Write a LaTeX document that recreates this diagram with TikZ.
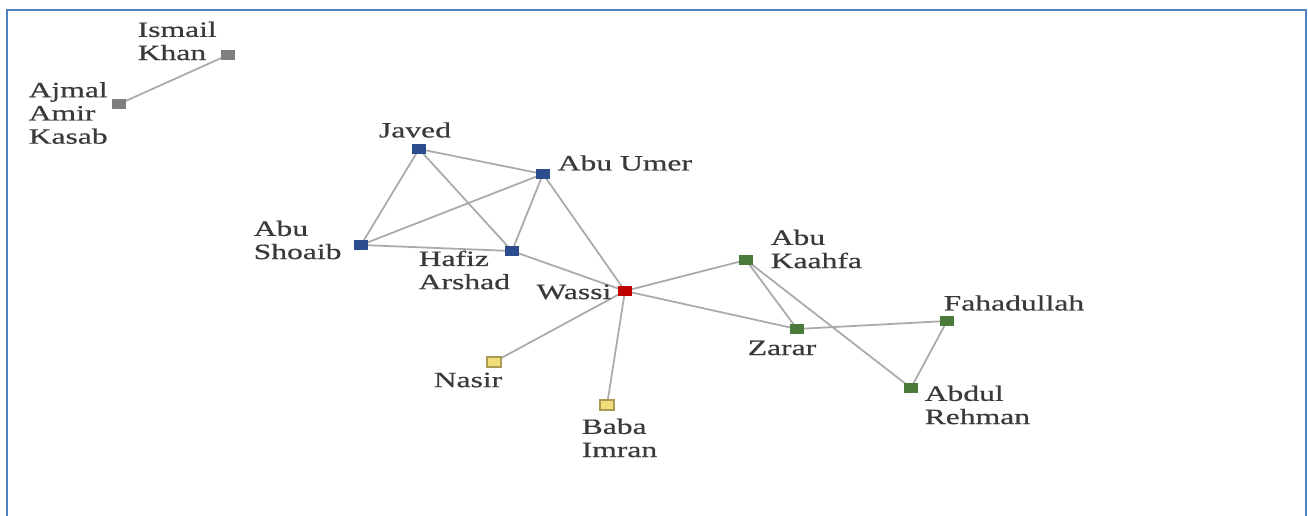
\documentclass[tikz,border=0pt]{standalone}
\usepackage{fontspec}
\usepackage{xcolor}
\usetikzlibrary{positioning,backgrounds}
\newfontfamily\netfont[FakeStretch=1.45,FakeBold=0.6]{Liberation Serif}
\definecolor{frameblue}{HTML}{4F81BD}
\definecolor{edgegrey}{HTML}{AAAAAA}
\definecolor{txtgrey}{HTML}{3A3A3A}
\definecolor{cellgrey}{HTML}{7F7F7F}
\definecolor{cellblue}{HTML}{2D4E8C}
\definecolor{cellred}{HTML}{C00000}
\definecolor{cellgreen}{HTML}{4B7B3A}
\definecolor{cellyellow}{HTML}{F2DC7A}

\begin{document}
\begin{tikzpicture}[x=0.01cm, y=-0.01cm,
                link/.style={draw=edgegrey, line width=0.5pt}]
        \tikzset{
                actor/.style  = {rectangle, inner sep=0pt, minimum width=1.4mm, minimum height=1mm},
                lone/.style   = {actor, fill=cellgrey},
                cell/.style   = {actor, fill=cellblue},
                hub/.style    = {actor, fill=cellred},
                team/.style   = {actor, fill=cellgreen},
                aide/.style   = {actor, fill=cellyellow, draw=cellyellow!70!black, line width=0.3pt},
                who/.style    = {inner sep=0pt, align=left, text=txtgrey,
                                font=\netfont\fontsize{6.2}{6.6}\selectfont}
        }
        \useasboundingbox (0,0) rectangle (1308,516);
        % frame round the picture, open at the bottom
        \draw[frameblue, line width=0.8pt] (7,516) |- (1306,10) -- (1306,516);

        % the squares, one per person
        \node[lone] (ismail) at (228,55)  {};
        \node[lone] (ajmal)  at (119,104) {};
        \node[cell] (javed)  at (419,149) {};
        \node[cell] (umer)   at (543,174) {};
        \node[cell] (shoaib) at (361,245) {};
        \node[cell] (hafiz)  at (512,251) {};
        \node[hub]  (wassi)  at (625,291) {};
        \node[team] (kaahfa) at (746,260) {};
        \node[team] (zarar)  at (797,329) {};
        \node[team] (fahad)  at (947,321) {};
        \node[team] (abdul)  at (911,388) {};
        \node[aide] (nasir)  at (494,362) {};
        \node[aide] (baba)   at (607,405) {};

        % names beside the squares
        \node[who, anchor=west] (t-ismail) at (137,41)  {Ismail\\Khan};
        \node[who, anchor=west] (t-ajmal)  at (28,113)  {Ajmal\\Amir\\Kasab};
        \node[who]              (t-javed)  at (415,130) {Javed};
        \node[who, anchor=west] (t-umer)   at (557,163) {Abu Umer};
        \node[who, anchor=west] (t-shoaib) at (253,240) {Abu\\Shoaib};
        \node[who, anchor=west] (t-hafiz)  at (418,270) {Hafiz\\Arshad};
        \node[who, anchor=east] (t-wassi)  at (612,292) {Wassi};
        \node[who, anchor=west] (t-kaahfa) at (770,249) {Abu\\Kaahfa};
        \node[who]              (t-zarar)  at (782,348) {Zarar};
        \node[who, anchor=west] (t-fahad)  at (943,303) {Fahadullah};
        \node[who, anchor=west] (t-abdul)  at (924,405) {Abdul\\Rehman};
        \node[who]              (t-nasir)  at (468,380) {Nasir};
        \node[who, anchor=west] (t-baba)   at (581,438) {Baba\\Imran};

        % ties between the people, behind the squares
        \begin{scope}[on background layer]
        \foreach \a/\b in {ismail/ajmal, javed/umer, javed/shoaib, javed/hafiz,
                           umer/shoaib, umer/hafiz, umer/wassi, shoaib/hafiz,
                           hafiz/wassi, wassi/kaahfa, wassi/zarar, wassi/nasir,
                           wassi/baba, kaahfa/zarar, kaahfa/abdul, zarar/fahad,
                           fahad/abdul}
        \draw[link] (\a.center) -- (\b.center);
        \end{scope}

\end{tikzpicture}
\end{document}
